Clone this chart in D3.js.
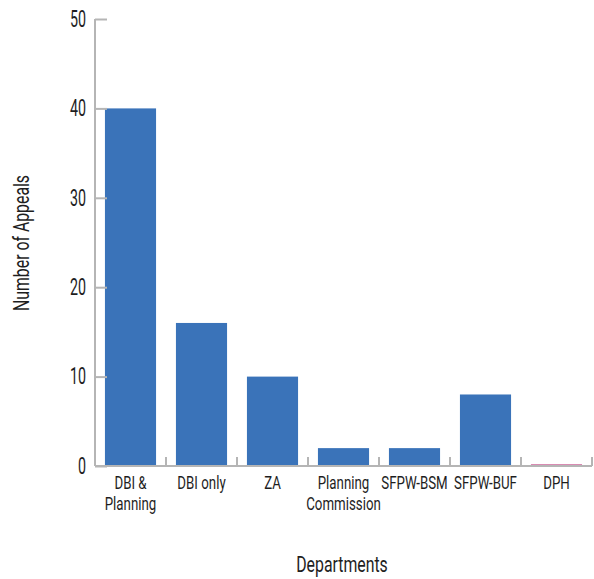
<!DOCTYPE html>
<html>
<head>
<meta charset="utf-8">
<script src="https://cdn.jsdelivr.net/npm/d3@7"></script>
<style>
  body { margin: 0; background: #fff; }
  svg text { font-family: Roboto, "Liberation Sans", sans-serif; fill: #1e1e1e; }
</style>
</head>
<body>
<div id="chart"></div>
<script>
const departments = [["DBI &", "Planning"], ["DBI only"], ["ZA"], ["Planning", "Commission"], ["SFPW-BSM"], ["SFPW-BUF"], ["DPH"]];
const appeals = [40, 16, 10, 2, 2, 8, 0];
const yTicks = [0, 10, 20, 30, 40, 50];

const width = 594, height = 579;
const plotLeft = 95, plotRight = 592, plotTop = 19, plotBottom = 466;
const squeeze = 0.72; // no condensed font installed, so narrow the text by hand
const tickSqueeze = 0.62;

const svg = d3.select("#chart").append("svg")
    .attr("width", width)
    .attr("height", height);

const x = d3.scaleBand()
    .domain(departments.map((d, i) => i))
    .range([plotLeft, plotRight])
    .paddingInner(0.28)
    .paddingOuter(0.14);

const y = d3.scaleLinear()
    .domain([0, 50])
    .range([plotBottom, plotTop]);

// bars
svg.selectAll("rect.bar")
    .data(appeals)
    .enter()
    .append("rect")
    .attr("class", "bar")
    .attr("x", (d, i) => x(i))
    .attr("y", d => y(d))
    .attr("width", x.bandwidth())
    .attr("height", d => y(0) - y(d))
    .attr("fill", "#3a73b9");

// zero-value bar shows as a thin pink line
const zeroIdx = appeals.map((d, i) => d === 0 ? i : -1).filter(i => i >= 0);
svg.selectAll("line.zero")
    .data(zeroIdx)
    .enter()
    .append("line")
    .attr("x1", i => x(i))
    .attr("x2", i => x(i) + x.bandwidth())
    .attr("y1", y(0) - 1.5)
    .attr("y2", y(0) - 1.5)
    .attr("stroke", "#d98cb3")
    .attr("stroke-width", 1);

// y axis
const yAxis = svg.append("g")
    .attr("transform", `translate(${plotLeft},0)`)
    .call(d3.axisLeft(y).tickValues(yTicks).tickSize(-12).tickPadding(9));
yAxis.select(".domain").attr("stroke", "#b5b5b5").attr("stroke-width", 2).attr("d", `M0,${plotTop}V${plotBottom}`);
yAxis.selectAll(".tick line").attr("stroke", "#b5b5b5").attr("stroke-width", 2);
yAxis.selectAll(".tick text")
    .attr("x", -9 / tickSqueeze)
    .attr("transform", `scale(${tickSqueeze},1)`)
    .style("font-size", "23px")
    .attr("fill", "#1e1e1e");

// x axis
const step = x.step();
const bounds = d3.range(departments.length + 1).map(i => plotLeft + i * step);
svg.append("line")
    .attr("x1", plotLeft).attr("x2", plotRight)
    .attr("y1", plotBottom).attr("y2", plotBottom)
    .attr("stroke", "#b5b5b5").attr("stroke-width", 2);
svg.selectAll("line.xtick")
    .data(bounds)
    .enter()
    .append("line")
    .attr("x1", d => d).attr("x2", d => d)
    .attr("y1", plotBottom).attr("y2", plotBottom - 9)
    .attr("stroke", "#b5b5b5").attr("stroke-width", 2);

const labels = svg.selectAll("text.xlabel")
    .data(departments)
    .enter()
    .append("text")
    .attr("class", "xlabel")
    .attr("text-anchor", "middle")
    .attr("transform", (d, i) => `translate(${x(i) + x.bandwidth() / 2},489) scale(${squeeze - 0.02},1)`)
    .style("font-size", "19px");
labels.selectAll("tspan")
    .data(d => d)
    .enter()
    .append("tspan")
    .attr("x", 0)
    .attr("dy", (d, i) => i === 0 ? 0 : 21)
    .text(d => d);

// axis titles
svg.append("text")
    .attr("transform", `translate(29,243) rotate(-90) scale(${squeeze},1)`)
    .attr("text-anchor", "middle")
    .style("font-size", "22px")
    .text("Number of Appeals");

svg.append("text")
    .attr("transform", `translate(342,572) scale(${squeeze},1)`)
    .attr("text-anchor", "middle")
    .style("font-size", "22px")
    .text("Departments");
</script>
</body>
</html>
